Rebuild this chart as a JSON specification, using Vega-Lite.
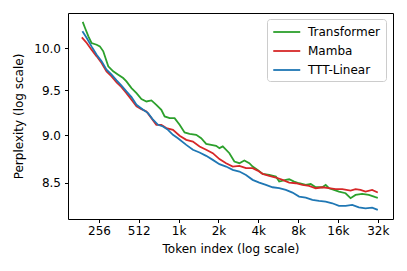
{
  "$schema": "https://vega.github.io/schema/vega-lite/v6.json",
  "width": 325,
  "height": 206,
  "autosize": {"type": "none"},
  "padding": {"left": 68, "top": 13, "right": 14, "bottom": 52},
  "background": "white",
  "config": {
    "font": "DejaVu Sans",
    "view": {"stroke": "black", "strokeWidth": 1},
    "axis": {
      "grid": false, "domain": false, "tickColor": "black", "tickSize": 3.5, "tickWidth": 1,
      "labelFont": "DejaVu Sans", "labelFontSize": 12, "labelColor": "black",
      "titleFont": "DejaVu Sans", "titleFontSize": 12, "titleFontWeight": "normal", "titleColor": "black"
    },
    "legend": {
      "labelFont": "DejaVu Sans", "labelFontSize": 12, "labelColor": "black"
    }
  },
  "datasets": {
    "curves": [
      {"model": "Transformer", "token": 193, "ppl": 10.32},
      {"model": "Transformer", "token": 201, "ppl": 10.245},
      {"model": "Transformer", "token": 213, "ppl": 10.142},
      {"model": "Transformer", "token": 225, "ppl": 10.061},
      {"model": "Transformer", "token": 246, "ppl": 10.04},
      {"model": "Transformer", "token": 260, "ppl": 10.02},
      {"model": "Transformer", "token": 276, "ppl": 9.96},
      {"model": "Transformer", "token": 301, "ppl": 9.781},
      {"model": "Transformer", "token": 328, "ppl": 9.722},
      {"model": "Transformer", "token": 358, "ppl": 9.683},
      {"model": "Transformer", "token": 390, "ppl": 9.644},
      {"model": "Transformer", "token": 413, "ppl": 9.605},
      {"model": "Transformer", "token": 451, "ppl": 9.528},
      {"model": "Transformer", "token": 492, "ppl": 9.47},
      {"model": "Transformer", "token": 536, "ppl": 9.402},
      {"model": "Transformer", "token": 585, "ppl": 9.375},
      {"model": "Transformer", "token": 638, "ppl": 9.387},
      {"model": "Transformer", "token": 695, "ppl": 9.337},
      {"model": "Transformer", "token": 758, "ppl": 9.281},
      {"model": "Transformer", "token": 803, "ppl": 9.207},
      {"model": "Transformer", "token": 876, "ppl": 9.188},
      {"model": "Transformer", "token": 955, "ppl": 9.188},
      {"model": "Transformer", "token": 1042, "ppl": 9.114},
      {"model": "Transformer", "token": 1136, "ppl": 9.03},
      {"model": "Transformer", "token": 1239, "ppl": 9.016},
      {"model": "Transformer", "token": 1391, "ppl": 9.005},
      {"model": "Transformer", "token": 1517, "ppl": 8.968},
      {"model": "Transformer", "token": 1654, "ppl": 8.907},
      {"model": "Transformer", "token": 1804, "ppl": 8.896},
      {"model": "Transformer", "token": 1967, "ppl": 8.886},
      {"model": "Transformer", "token": 2084, "ppl": 8.861},
      {"model": "Transformer", "token": 2208, "ppl": 8.879},
      {"model": "Transformer", "token": 2478, "ppl": 8.807},
      {"model": "Transformer", "token": 2702, "ppl": 8.719},
      {"model": "Transformer", "token": 2947, "ppl": 8.701},
      {"model": "Transformer", "token": 3214, "ppl": 8.729},
      {"model": "Transformer", "token": 3504, "ppl": 8.701},
      {"model": "Transformer", "token": 3713, "ppl": 8.666},
      {"model": "Transformer", "token": 4049, "ppl": 8.631},
      {"model": "Transformer", "token": 4416, "ppl": 8.59},
      {"model": "Transformer", "token": 4956, "ppl": 8.579},
      {"model": "Transformer", "token": 5563, "ppl": 8.562},
      {"model": "Transformer", "token": 5894, "ppl": 8.51},
      {"model": "Transformer", "token": 6616, "ppl": 8.528},
      {"model": "Transformer", "token": 7009, "ppl": 8.534},
      {"model": "Transformer", "token": 7643, "ppl": 8.51},
      {"model": "Transformer", "token": 8335, "ppl": 8.493},
      {"model": "Transformer", "token": 9356, "ppl": 8.476},
      {"model": "Transformer", "token": 10203, "ppl": 8.486},
      {"model": "Transformer", "token": 11127, "ppl": 8.452},
      {"model": "Transformer", "token": 12489, "ppl": 8.452},
      {"model": "Transformer", "token": 13232, "ppl": 8.476},
      {"model": "Transformer", "token": 14018, "ppl": 8.442},
      {"model": "Transformer", "token": 15287, "ppl": 8.425},
      {"model": "Transformer", "token": 16670, "ppl": 8.408},
      {"model": "Transformer", "token": 18711, "ppl": 8.391},
      {"model": "Transformer", "token": 20405, "ppl": 8.341},
      {"model": "Transformer", "token": 22254, "ppl": 8.374},
      {"model": "Transformer", "token": 24979, "ppl": 8.384},
      {"model": "Transformer", "token": 28037, "ppl": 8.374},
      {"model": "Transformer", "token": 31470, "ppl": 8.351},
      {"model": "Transformer", "token": 32768, "ppl": 8.345},
      {"model": "Mamba", "token": 190, "ppl": 10.13},
      {"model": "Mamba", "token": 207, "ppl": 10.061},
      {"model": "Mamba", "token": 225, "ppl": 9.98},
      {"model": "Mamba", "token": 246, "ppl": 9.9},
      {"model": "Mamba", "token": 268, "ppl": 9.82},
      {"model": "Mamba", "token": 292, "ppl": 9.722},
      {"model": "Mamba", "token": 319, "ppl": 9.663},
      {"model": "Mamba", "token": 348, "ppl": 9.593},
      {"model": "Mamba", "token": 379, "ppl": 9.539},
      {"model": "Mamba", "token": 413, "ppl": 9.47},
      {"model": "Mamba", "token": 451, "ppl": 9.394},
      {"model": "Mamba", "token": 492, "ppl": 9.319},
      {"model": "Mamba", "token": 536, "ppl": 9.289},
      {"model": "Mamba", "token": 585, "ppl": 9.263},
      {"model": "Mamba", "token": 638, "ppl": 9.188},
      {"model": "Mamba", "token": 695, "ppl": 9.114},
      {"model": "Mamba", "token": 758, "ppl": 9.114},
      {"model": "Mamba", "token": 827, "ppl": 9.078},
      {"model": "Mamba", "token": 928, "ppl": 9.059},
      {"model": "Mamba", "token": 1042, "ppl": 8.994},
      {"model": "Mamba", "token": 1170, "ppl": 8.95},
      {"model": "Mamba", "token": 1313, "ppl": 8.932},
      {"model": "Mamba", "token": 1474, "ppl": 8.879},
      {"model": "Mamba", "token": 1654, "ppl": 8.843},
      {"model": "Mamba", "token": 1856, "ppl": 8.807},
      {"model": "Mamba", "token": 2084, "ppl": 8.744},
      {"model": "Mamba", "token": 2339, "ppl": 8.701},
      {"model": "Mamba", "token": 2626, "ppl": 8.666},
      {"model": "Mamba", "token": 2947, "ppl": 8.673},
      {"model": "Mamba", "token": 3308, "ppl": 8.649},
      {"model": "Mamba", "token": 3713, "ppl": 8.649},
      {"model": "Mamba", "token": 4049, "ppl": 8.624},
      {"model": "Mamba", "token": 4416, "ppl": 8.59},
      {"model": "Mamba", "token": 4956, "ppl": 8.569},
      {"model": "Mamba", "token": 5563, "ppl": 8.552},
      {"model": "Mamba", "token": 6245, "ppl": 8.528},
      {"model": "Mamba", "token": 7009, "ppl": 8.5},
      {"model": "Mamba", "token": 7868, "ppl": 8.493},
      {"model": "Mamba", "token": 8831, "ppl": 8.476},
      {"model": "Mamba", "token": 9913, "ppl": 8.466},
      {"model": "Mamba", "token": 11127, "ppl": 8.442},
      {"model": "Mamba", "token": 12489, "ppl": 8.452},
      {"model": "Mamba", "token": 14018, "ppl": 8.442},
      {"model": "Mamba", "token": 15735, "ppl": 8.432},
      {"model": "Mamba", "token": 17661, "ppl": 8.432},
      {"model": "Mamba", "token": 20405, "ppl": 8.418},
      {"model": "Mamba", "token": 22254, "ppl": 8.432},
      {"model": "Mamba", "token": 24267, "ppl": 8.425},
      {"model": "Mamba", "token": 26464, "ppl": 8.408},
      {"model": "Mamba", "token": 29706, "ppl": 8.425},
      {"model": "Mamba", "token": 32768, "ppl": 8.398},
      {"model": "TTT-Linear", "token": 192, "ppl": 10.204},
      {"model": "TTT-Linear", "token": 207, "ppl": 10.122},
      {"model": "TTT-Linear", "token": 225, "ppl": 10.02},
      {"model": "TTT-Linear", "token": 246, "ppl": 9.92},
      {"model": "TTT-Linear", "token": 268, "ppl": 9.84},
      {"model": "TTT-Linear", "token": 292, "ppl": 9.741},
      {"model": "TTT-Linear", "token": 319, "ppl": 9.683},
      {"model": "TTT-Linear", "token": 348, "ppl": 9.616},
      {"model": "TTT-Linear", "token": 379, "ppl": 9.555},
      {"model": "TTT-Linear", "token": 413, "ppl": 9.489},
      {"model": "TTT-Linear", "token": 451, "ppl": 9.425},
      {"model": "TTT-Linear", "token": 492, "ppl": 9.337},
      {"model": "TTT-Linear", "token": 552, "ppl": 9.281},
      {"model": "TTT-Linear", "token": 602, "ppl": 9.244},
      {"model": "TTT-Linear", "token": 656, "ppl": 9.17},
      {"model": "TTT-Linear", "token": 716, "ppl": 9.114},
      {"model": "TTT-Linear", "token": 780, "ppl": 9.096},
      {"model": "TTT-Linear", "token": 851, "ppl": 9.059},
      {"model": "TTT-Linear", "token": 928, "ppl": 9.005},
      {"model": "TTT-Linear", "token": 1012, "ppl": 8.968},
      {"model": "TTT-Linear", "token": 1170, "ppl": 8.896},
      {"model": "TTT-Linear", "token": 1313, "ppl": 8.843},
      {"model": "TTT-Linear", "token": 1474, "ppl": 8.814},
      {"model": "TTT-Linear", "token": 1654, "ppl": 8.779},
      {"model": "TTT-Linear", "token": 1856, "ppl": 8.736},
      {"model": "TTT-Linear", "token": 2084, "ppl": 8.691},
      {"model": "TTT-Linear", "token": 2339, "ppl": 8.666},
      {"model": "TTT-Linear", "token": 2626, "ppl": 8.631},
      {"model": "TTT-Linear", "token": 2947, "ppl": 8.614},
      {"model": "TTT-Linear", "token": 3308, "ppl": 8.579},
      {"model": "TTT-Linear", "token": 3713, "ppl": 8.528},
      {"model": "TTT-Linear", "token": 4168, "ppl": 8.5},
      {"model": "TTT-Linear", "token": 4678, "ppl": 8.476},
      {"model": "TTT-Linear", "token": 5251, "ppl": 8.452},
      {"model": "TTT-Linear", "token": 5894, "ppl": 8.442},
      {"model": "TTT-Linear", "token": 6616, "ppl": 8.425},
      {"model": "TTT-Linear", "token": 7426, "ppl": 8.398},
      {"model": "TTT-Linear", "token": 8335, "ppl": 8.357},
      {"model": "TTT-Linear", "token": 9356, "ppl": 8.347},
      {"model": "TTT-Linear", "token": 10502, "ppl": 8.324},
      {"model": "TTT-Linear", "token": 11788, "ppl": 8.314},
      {"model": "TTT-Linear", "token": 13232, "ppl": 8.307},
      {"model": "TTT-Linear", "token": 14851, "ppl": 8.29},
      {"model": "TTT-Linear", "token": 16670, "ppl": 8.264},
      {"model": "TTT-Linear", "token": 18711, "ppl": 8.264},
      {"model": "TTT-Linear", "token": 21003, "ppl": 8.274},
      {"model": "TTT-Linear", "token": 23577, "ppl": 8.25},
      {"model": "TTT-Linear", "token": 26464, "ppl": 8.24},
      {"model": "TTT-Linear", "token": 29706, "ppl": 8.247},
      {"model": "TTT-Linear", "token": 32768, "ppl": 8.224}
    ]
  },
  "data": {"name": "curves"},
  "mark": {"type": "line", "strokeWidth": 1.8, "clip": true},
  "encoding": {
    "x": {
      "field": "token", "type": "quantitative",
      "scale": {"type": "log", "domain": [149.4, 42700], "nice": false},
      "axis": {
        "title": "Token index (log scale)",
        "values": [256, 512, 1024, 2048, 4096, 8192, 16384, 32768],
        "labelExpr": "datum.value >= 1024 ? (datum.value / 1024) + 'k' : datum.value",
        "labelPadding": 3, "titlePadding": 7, "labelFlush": false
      }
    },
    "y": {
      "field": "ppl", "type": "quantitative",
      "scale": {"type": "log", "domain": [8.134, 10.432], "nice": false, "zero": false},
      "axis": {
        "title": "Perplexity (log scale)",
        "values": [8.5, 9.0, 9.5, 10.0],
        "format": ".1f",
        "labelPadding": 4, "titlePadding": 8, "labelFlush": false
      }
    },
    "color": {
      "field": "model", "type": "nominal",
      "scale": {"domain": ["Transformer", "Mamba", "TTT-Linear"], "range": ["#2ca02c", "#d62728", "#1f77b4"]},
      "legend": {
        "title": null, "orient": "none", "legendX": 199, "legendY": 6,
        "symbolType": "M-1,0H3", "symbolSize": 182, "symbolStrokeWidth": 1.8,
        "labelOffset": 20, "rowPadding": 5, "padding": 5,
        "strokeColor": "#cccccc", "fillColor": "white", "cornerRadius": 3
      }
    }
  }
}
